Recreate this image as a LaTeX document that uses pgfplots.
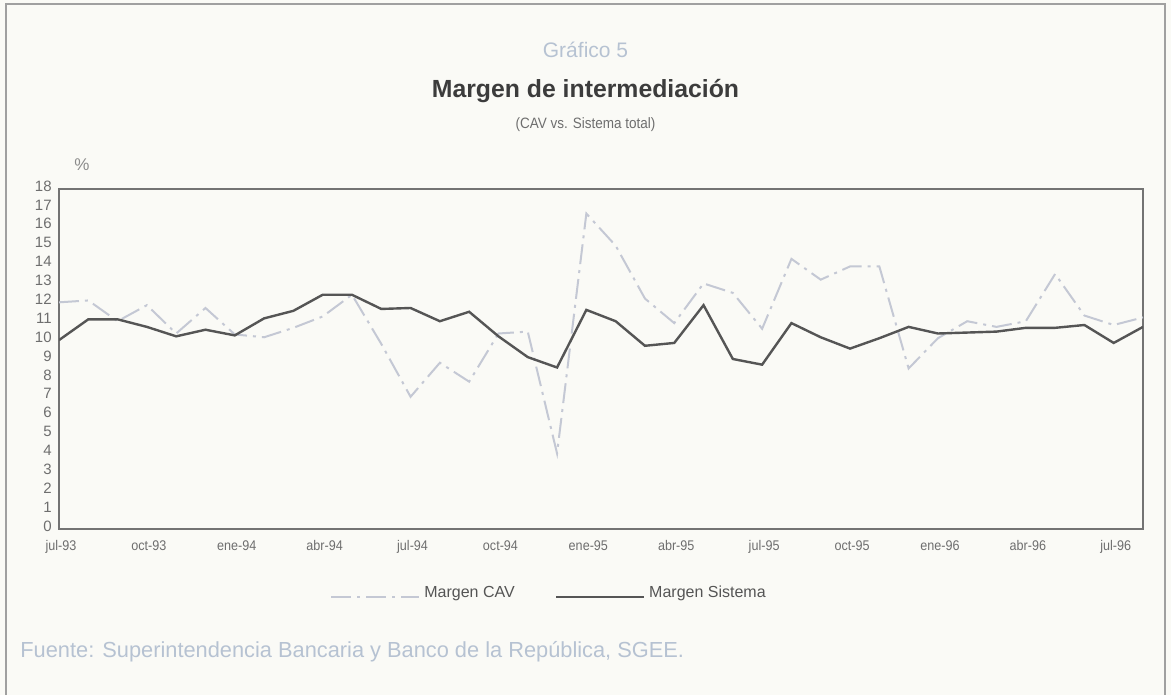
\documentclass[border=0pt]{standalone}
\usepackage{pgfplots}
\pgfplotsset{compat=1.18}
\usepackage{fontspec}
\setmainfont{Liberation Sans}
\newfontfamily\condfont[FakeStretch=0.9]{Liberation Sans}
\definecolor{bg}{RGB}{250,250,246}
\definecolor{framec}{RGB}{160,160,160}
\definecolor{sist}{RGB}{85,85,85}
\definecolor{cav}{RGB}{196,200,212}
\definecolor{lightblue}{RGB}{182,194,210}
\definecolor{ticktext}{RGB}{110,110,110}
\definecolor{titlec}{RGB}{60,60,60}
\definecolor{axisc}{RGB}{115,115,115}

\pgfplotstableread{
m v
0 12.0
1 12.1
2 11.0
3 11.85
4 10.35
5 11.7
6 10.3
7 10.15
8 10.65
9 11.25
10 12.4
11 9.8
12 7.0
13 8.8
14 7.8
15 10.35
16 10.45
17 4.0
18 16.7
19 15.0
20 12.2
21 10.9
22 13.0
23 12.5
24 10.6
25 14.3
26 13.2
27 13.9
28 13.9
29 8.5
30 10.1
31 11.0
32 10.7
33 11.0
34 13.5
35 11.3
36 10.8
37 11.2
}\cavdata

\pgfplotstableread{
m v
0 10.0
1 11.1
2 11.1
3 10.7
4 10.2
5 10.55
6 10.25
7 11.15
8 11.55
9 12.4
10 12.4
11 11.65
12 11.7
13 11.0
14 11.5
15 10.2
16 9.1
17 8.55
18 11.6
19 11.0
20 9.7
21 9.85
22 11.85
23 9.0
24 8.7
25 10.9
26 10.15
27 9.55
28 10.1
29 10.7
30 10.35
31 10.4
32 10.45
33 10.65
34 10.65
35 10.8
36 9.85
37 10.7
}\sistdata

\begin{document}
\begin{tikzpicture}
\fill[bg] (0,0) rectangle (585.5pt,347.5pt);
\draw[framec, line width=0.8pt] (3pt,0pt) -- (3pt,345.5pt) -- (582.5pt,345.5pt) -- (582.5pt,0pt);
\node[text=lightblue, font=\fontsize{10.5}{12}\selectfont] at (292.75pt,322.5pt) {Gráfico 5};
\node[text=titlec, font=\bfseries\fontsize{12.4}{14}\selectfont] at (292.75pt,302pt) {Margen de intermediación};
\node[text=ticktext, font=\condfont\fontsize{7.5}{9}\selectfont] at (292.75pt,285pt) {(CAV vs. Sistema total)};
\node[text=ticktext!80, font=\fontsize{8.5}{10}\selectfont] at (41pt,265pt) {\%};
\node[text=lightblue, font=\fontsize{10.9}{12}\selectfont, anchor=west, inner sep=0pt] at (10pt,21.5pt) {Fuente: Superintendencia Bancaria y Banco de la República, SGEE.};
\begin{axis}[
  at={(29.5pt,83pt)}, anchor=south west,
  scale only axis, width=542pt, height=170pt,
  xmin=0, xmax=37, ymin=0, ymax=18,
  ytick={0,1,...,18},
  xtick={0,3,...,36},
  xticklabels={jul-93,oct-93,ene-94,abr-94,jul-94,oct-94,ene-95,abr-95,jul-95,oct-95,ene-96,abr-96,jul-96},
  major tick length=0pt,
  axis line style={draw=axisc, line width=1pt},
  /pgf/number format/assume math mode=true,
  yticklabel style={font=\fontsize{7.5}{9}\selectfont, text=ticktext, anchor=east, inner sep=0pt, xshift=-3.5pt, yshift=1.5pt},
  xticklabel style={font=\condfont\fontsize{7}{9}\selectfont, text=ticktext, anchor=north, inner sep=0pt, yshift=-5.5pt, xshift=1pt},
  legend style={at={(axis description cs:0.25,-0.188)}, anchor=west, draw=none, fill=none, inner sep=0pt,
    legend columns=2, font=\fontsize{8}{10}\selectfont, text=sist,
    /tikz/every even column/.append style={column sep=18pt}},
  legend image code/.code={\draw[#1] (0pt,-2pt) -- (44pt,-2pt);},
]
\addplot[cav, line width=1pt, dash pattern=on 10pt off 3pt on 1.5pt off 3pt] table[x=m,y=v]{\cavdata};
\addlegendentry{Margen CAV}
\addplot[sist, line width=1.2pt] table[x=m,y=v]{\sistdata};
\addlegendentry{Margen Sistema}
\end{axis}
\end{tikzpicture}
\end{document}
